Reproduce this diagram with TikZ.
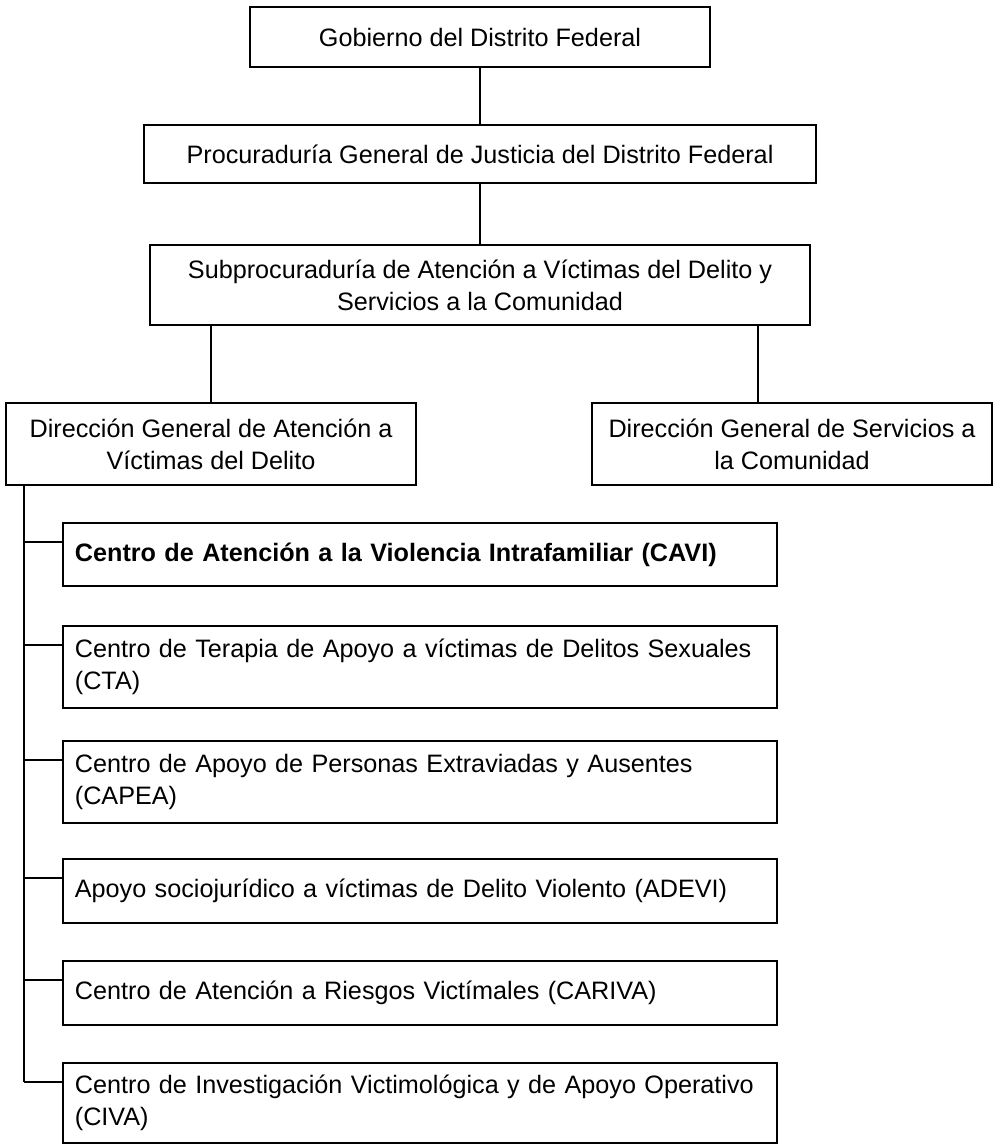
\documentclass[tikz,border=0pt]{standalone}
\usepackage{fontspec}
\setmainfont{Liberation Sans}
\tikzset{
  orgbox/.style={draw, line width=0.9pt, align=center, inner sep=0pt,
    font=\fontsize{12.6pt}{16pt}\selectfont},
  unitbox/.style={draw, line width=0.9pt, align=left, anchor=north west,
    text width=345pt, inner xsep=6pt, inner ysep=0pt,
    font=\fontsize{12.6pt}{16pt}\selectfont},
  link/.style={line width=0.7pt}
}
\begin{document}
\begin{tikzpicture}[x=0.5pt, y=-0.5pt]
\useasboundingbox (0,0) rectangle (1004,1144);

% upper levels
\node[orgbox, minimum width=230pt, minimum height=30pt] (gob) at (480,37) {Gobierno del Distrito Federal};
\node[orgbox, minimum width=336pt, minimum height=29pt] (proc) at (480,154) {Procuraduría General de Justicia del Distrito Federal};
\node[orgbox, minimum width=330pt, minimum height=40pt] (sub) at (480,285) {Subprocuraduría de Atención a Víctimas del Delito y\\Servicios a la Comunidad};
\node[orgbox, minimum width=205pt, minimum height=41pt] (dirA) at (211,444) {Dirección General de Atención a\\Víctimas del Delito};
\node[orgbox, minimum width=200pt, minimum height=41pt] (dirB) at (792,444) {Dirección General de Servicios a\\la Comunidad};

\draw[link] (gob.south) -- (gob.south |- proc.north);
\draw[link] (proc.south) -- (proc.south |- sub.north);
\draw[link] (sub.south -| dirA.north) -- (dirA.north);
\coordinate (rb) at (758,0);
\draw[link] (sub.south -| rb) -- (dirB.north -| rb);

% centros
\foreach \nm/\ytop/\hgt/\txt in {
  cavi/522/63/{\textbf{Centro de Atención a la Violencia Intrafamiliar (CAVI)}},
  cta/625/82/{Centro de Terapia de Apoyo a víctimas de Delitos Sexuales\\(CTA)},
  capea/740/82/{Centro de Apoyo de Personas Extraviadas y Ausentes\\(CAPEA)},
  adevi/858/64/{Apoyo sociojurídico a víctimas de Delito Violento (ADEVI)},
  cariva/960/64/{Centro de Atención a Riesgos Victímales (CARIVA)},
  civa/1062/80/{Centro de Investigación Victimológica y de Apoyo Operativo\\(CIVA)}}
  \node[unitbox, minimum height=\hgt*0.5pt] (\nm) at (62,\ytop) {\txt};

\coordinate (trunk) at (24,0);
\draw[link] (dirA.south -| trunk) -- ([yshift=-10pt]civa.north west -| trunk);
\foreach \nm in {cavi,cta,capea,adevi,cariva,civa}
  \draw[link] ([yshift=-10pt]\nm.north west) -- ([yshift=-10pt]\nm.north west -| trunk);
\end{tikzpicture}
\end{document}
